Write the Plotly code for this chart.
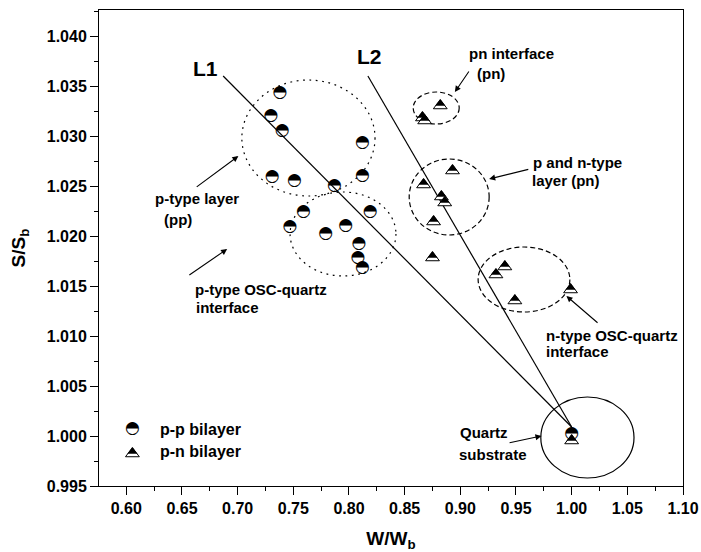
import plotly.graph_objects as go

# ---- data -------------------------------------------------------------
# p-p bilayer (half-filled circles)
PP_W = [0.738, 0.730, 0.740, 0.812, 0.731, 0.751, 0.812, 0.787, 0.759,
        0.819, 0.747, 0.797, 0.779, 0.809, 0.808, 0.812, 1.000]
PP_S = [1.0343, 1.0320, 1.0305, 1.0293, 1.0259, 1.0255, 1.0260, 1.0250,
        1.0224, 1.0224, 1.0209, 1.0210, 1.0202, 1.0192, 1.0178, 1.0168, 1.0002]

# p-n bilayer (half-filled triangles)
PN_W = [0.882, 0.866, 0.868, 0.893, 0.867, 0.883, 0.886, 0.876, 0.875,
        0.940, 0.932, 0.949, 0.999, 1.000]
PN_S = [1.0333, 1.0321, 1.0318, 1.0268, 1.0254, 1.0242, 1.0236, 1.0217,
        1.0181, 1.0172, 1.0164, 1.0138, 1.0149, 0.9998]

# guide lines towards the quartz substrate
L1_W = [0.687, 1.000]
L1_S = [1.0360, 1.0009]
L2_W = [0.817, 1.000]
L2_S = [1.0360, 1.0009]

# region outlines: (w0, w1, s0, s1, style)
REGIONS = [
    (0.7038, 0.8234, 1.0240, 1.0356, "dot"),     # p-type layer
    (0.7471, 0.8422, 1.0160, 1.0244, "dot"),     # p-type OSC-quartz interface
    (0.8577, 0.8990, 1.0312, 1.0344, "dash"),    # pn interface
    (0.8541, 0.9259, 1.0201, 1.0277, "dash"),    # p and n-type layer
    (0.9160, 0.9984, 1.0124, 1.0189, "dash"),    # n-type OSC-quartz interface
    (0.9723, 1.0560, 0.9958, 1.0039, "solid"),   # quartz substrate
]

# ---- layout geometry --------------------------------------------------
W, H = 701, 552
M = dict(l=99, r=18, t=10, b=66)
X_RANGE = [0.5755, 1.10]
Y_RANGE = [0.995, 1.0426]
PX_Y = (Y_RANGE[1] - Y_RANGE[0]) / (H - M["t"] - M["b"])

FONT = "Liberation Sans, Arial, sans-serif"
DASHES = {"dot": "1.8px,4.6px", "dash": "5px,3px", "solid": "solid"}

TRI_SIZE = 12
TRI_K = 0.74
R = TRI_SIZE / 2.0


def tri_traces(ws, ss):
    # white triangle with outline, black upper part sharing the apex
    yw = [s - 0.457 * R * PX_Y for s in ss]
    yb = [y + 1.414 * R * (1 - TRI_K) * PX_Y for y in yw]
    return [
        go.Scatter(x=ws, y=yw, mode="markers", showlegend=False, hoverinfo="skip",
                   marker=dict(symbol="triangle-up", size=TRI_SIZE, color="white",
                               line=dict(color="black", width=1))),
        go.Scatter(x=ws, y=yb, mode="markers", showlegend=False,
                   marker=dict(symbol="triangle-up", size=TRI_SIZE * TRI_K,
                               color="black", line=dict(width=0))),
    ]


def circ_trace(ws, ss):
    return go.Scatter(x=ws, y=ss, mode="text", text=["\u25d3"] * len(ws),
                      textposition="middle center", showlegend=False,
                      textfont=dict(family="DejaVu Sans", size=17, color="black"))


fig = go.Figure()

for lw, ls in ((L1_W, L1_S), (L2_W, L2_S)):
    fig.add_trace(go.Scatter(x=lw, y=ls, mode="lines", showlegend=False,
                             line=dict(color="black", width=1.2)))

for t in tri_traces(PN_W, PN_S):
    fig.add_trace(t)
fig.add_trace(circ_trace(PP_W, PP_S))

# legend symbols
LEG_W = [0.6055]
LEG_S = [1.0007, 0.9985]
fig.add_trace(circ_trace(LEG_W, [LEG_S[0]]))
for t in tri_traces(LEG_W, [LEG_S[1]]):
    fig.add_trace(t)

for w0, w1, s0, s1, st in REGIONS:
    fig.add_shape(type="circle", xref="x", yref="y", x0=w0, x1=w1, y0=s0, y1=s1,
                  layer="below", line=dict(color="black", width=1.2, dash=DASHES[st]))

# ---- text labels ------------------------------------------------------
LABELS = [
    ("p-type layer", 0.6242, 1.0238),
    ("(pp)", 0.6323, 1.0217),
    ("p-type OSC-quartz", 0.6601, 1.0147),
    ("interface", 0.6610, 1.0129),
    ("pn interface", 0.9056, 1.0383),
    ("(pn)", 0.9131, 1.0363),
    ("p and n-type", 0.9639, 1.0274),
    ("layer (pn)", 0.9624, 1.0256),
    ("n-type OSC-quartz", 0.9750, 1.0101),
    ("interface", 0.9750, 1.0085),
    ("Quartz", 0.8981, 1.0004),
    ("substrate", 0.8967, 0.9982),
]
for txt, lx, ly in LABELS:
    fig.add_annotation(x=lx, y=ly, xref="x", yref="y", text="<b>%s</b>" % txt,
                       showarrow=False, xanchor="left", yanchor="middle",
                       font=dict(family=FONT, size=15, color="black"))

for txt, lx, ly in (("p-p bilayer", 0.6281, LEG_S[0]), ("p-n bilayer", 0.6281, LEG_S[1])):
    fig.add_annotation(x=lx, y=ly, xref="x", yref="y", text="<b>%s</b>" % txt,
                       showarrow=False, xanchor="left", yanchor="middle",
                       font=dict(family=FONT, size=16, color="black"))

for txt, lx, ly in (("L1", 0.6709, 1.0368), ("L2", 0.8180, 1.0380)):
    fig.add_annotation(x=lx, y=ly, xref="x", yref="y", text="<b>%s</b>" % txt,
                       showarrow=False, xanchor="center", yanchor="middle",
                       font=dict(family=FONT, size=21, color="black"))

# arrows: (tail w, tail s, head w, head s)
ARROWS = [
    (0.6619, 1.0248, 0.7007, 1.0280),
    (0.6553, 1.0160, 0.6906, 1.0187),
    (0.9086, 1.0366, 0.8951, 1.0344),
    (0.9624, 1.0267, 0.9259, 1.0257),
    (1.0246, 1.0112, 0.9953, 1.0140),
    (0.9429, 0.9993, 0.9729, 1.0000),
]
for tx, ty, hx, hy in ARROWS:
    fig.add_annotation(x=hx, y=hy, ax=tx, ay=ty, xref="x", yref="y",
                       axref="x", ayref="y", text="", showarrow=True,
                       arrowhead=2, arrowsize=1.1, arrowwidth=1.1,
                       arrowcolor="black", standoff=0, startstandoff=0)

axis_common = dict(showline=True, linecolor="black", linewidth=1, mirror=True,
                   showgrid=False, zeroline=False, ticks="outside", ticklen=8,
                   tickwidth=1, tickcolor="black", automargin=False,
                   tickfont=dict(family=FONT, size=16, color="black", weight="bold"))

fig.update_xaxes(range=X_RANGE, tick0=0.6, dtick=0.05, tickformat=".2f",
                 minor=dict(ticks="outside", ticklen=4, dtick=0.025, tickcolor="black"),
                 title=dict(text="<b>W/W<sub>b</sub></b>", standoff=18,
                            font=dict(family=FONT, size=19, color="black")),
                 **axis_common)
fig.update_yaxes(range=Y_RANGE, tick0=0.995, dtick=0.005, tickformat=".3f",
                 minor=dict(ticks="outside", ticklen=4, dtick=0.0025, tickcolor="black"),
                 title=dict(text="<b>S/S<sub>b</sub></b>", standoff=16,
                            font=dict(family=FONT, size=19, color="black")),
                 **axis_common)

fig.update_layout(width=W, height=H, margin=M, plot_bgcolor="white",
                  paper_bgcolor="white", showlegend=False)

fig.write_html("out.html")
